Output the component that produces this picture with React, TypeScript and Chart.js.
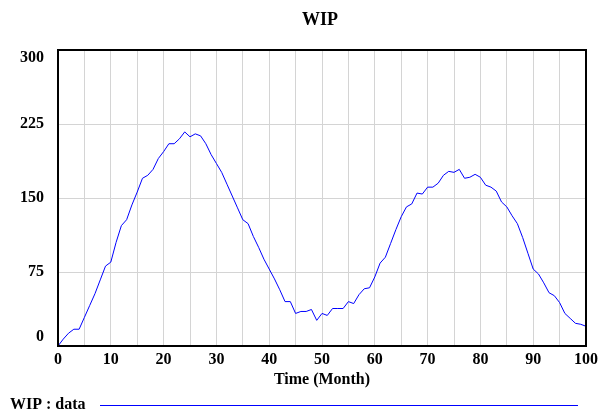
import React, { useEffect, useRef } from "react";
import { Chart, registerables } from "chart.js";

Chart.register(...registerables);

const chartTitle = "WIP";
const xAxisTitle = "Time (Month)";
const legendLabel = "WIP : data";

const months = [
  0, 1, 2, 3, 4, 5, 6, 7, 8, 9, 10, 11, 12, 13, 14, 15, 16, 17, 18, 19, 20,
  21, 22, 23, 24, 25, 26, 27, 28, 29, 30, 31, 32, 33, 34, 35, 36, 37, 38, 39, 40,
  41, 42, 43, 44, 45, 46, 47, 48, 49, 50, 51, 52, 53, 54, 55, 56, 57, 58, 59, 60,
  61, 62, 63, 64, 65, 66, 67, 68, 69, 70, 71, 72, 73, 74, 75, 76, 77, 78, 79, 80,
  81, 82, 83, 84, 85, 86, 87, 88, 89, 90, 91, 92, 93, 94, 95, 96, 97, 98, 99, 100,
];

const wip = [
  0, 7, 13, 17, 17, 29, 41, 53, 67, 81, 85, 105, 122, 128, 143, 156, 170, 173, 179, 190, 197,
  205, 205, 210, 217, 212, 215, 213, 205, 194, 185, 176, 164, 152, 140, 128, 124, 111, 100, 88, 78,
  68, 57, 45, 45, 33, 35, 35, 37, 26, 33, 31, 38, 38, 38, 45, 43, 52, 58, 59, 70,
  84, 90, 104, 118, 131, 141, 144, 155, 154, 161, 161, 165, 173, 177, 176, 179, 170, 171, 174, 171,
  163, 161, 157, 146, 141, 132, 124, 110, 94, 78, 73, 64, 54, 51, 44, 33, 28, 23, 22, 20,
];

const xTickLabels = ["0", "10", "20", "30", "40", "50", "60", "70", "80", "90", "100"];
const yTickLabels = ["0", "75", "150", "225", "300"];

const lineColor = "#0000ff";
const gridColor = "#d4d4d4";
const fontFamily = "'Liberation Serif', 'DejaVu Serif', serif";

const textPlugin = {
  id: "vensimText",
  afterDraw(chart: any) {
    const { ctx, chartArea: a, scales } = chart;
    const xs = scales.x;
    const ys = scales.y;
    ctx.save();
    ctx.strokeStyle = "#000";
    ctx.lineWidth = 2;
    ctx.strokeRect(a.left, a.top, a.right - a.left, a.bottom - a.top);

    ctx.fillStyle = "#000";
    ctx.textBaseline = "middle";
    ctx.textAlign = "center";
    ctx.font = `bold 18px ${fontFamily}`;
    ctx.fillText(chartTitle, (a.left + a.right) / 2 - 2, 20);

    ctx.font = `bold 16px ${fontFamily}`;
    xTickLabels.forEach((lab) => {
      ctx.fillText(lab, xs.getPixelForValue(Number(lab)), a.bottom + 14);
    });
    ctx.fillText(xAxisTitle, (a.left + a.right) / 2, a.bottom + 34);

    ctx.textAlign = "right";
    yTickLabels.forEach((lab, i) => {
      let py = ys.getPixelForValue(Number(lab));
      if (i === 0) py -= 9;
      if (i === yTickLabels.length - 1) py += 8;
      ctx.fillText(lab, a.left - 14, py);
    });

    ctx.textAlign = "left";
    ctx.fillText(legendLabel, 10, 405);
    ctx.strokeStyle = lineColor;
    ctx.lineWidth = 1;
    ctx.beginPath();
    ctx.moveTo(100, 405.5);
    ctx.lineTo(578, 405.5);
    ctx.stroke();
    ctx.restore();
  },
};

export default function App() {
  const ref = useRef<HTMLCanvasElement | null>(null);
  useEffect(() => {
    if (!ref.current) return;
    const chart = new Chart(ref.current, {
      type: "line",
      data: {
        datasets: [
          {
            label: legendLabel,
            data: months.map((m, i) => ({ x: m, y: wip[i] })),
            borderColor: lineColor,
            borderWidth: 1,
            pointRadius: 0,
            tension: 0,
            fill: false,
          },
        ],
      },
      options: {
        animation: false,
        responsive: false,
        devicePixelRatio: 1,
        layout: { padding: { left: 58, right: 15, top: 50, bottom: 66 } },
        plugins: {
          legend: { display: false },
          title: { display: false },
          tooltip: { enabled: false },
        },
        scales: {
          x: {
            type: "linear",
            min: 0,
            max: 100,
            ticks: { display: false, stepSize: 5 },
            grid: { color: gridColor, drawTicks: false, lineWidth: 1 },
            border: { display: false },
          },
          y: {
            min: 0,
            max: 300,
            ticks: { display: false, stepSize: 75 },
            grid: { color: gridColor, drawTicks: false, lineWidth: 1 },
            border: { display: false },
          },
        },
      },
      plugins: [textPlugin],
    });
    return () => chart.destroy();
  }, []);
  return (
    <canvas
      ref={ref}
      width={601}
      height={412}
      style={{ position: "absolute", left: 0, top: 0, display: "block", background: "#fff" }}
    />
  );
}
